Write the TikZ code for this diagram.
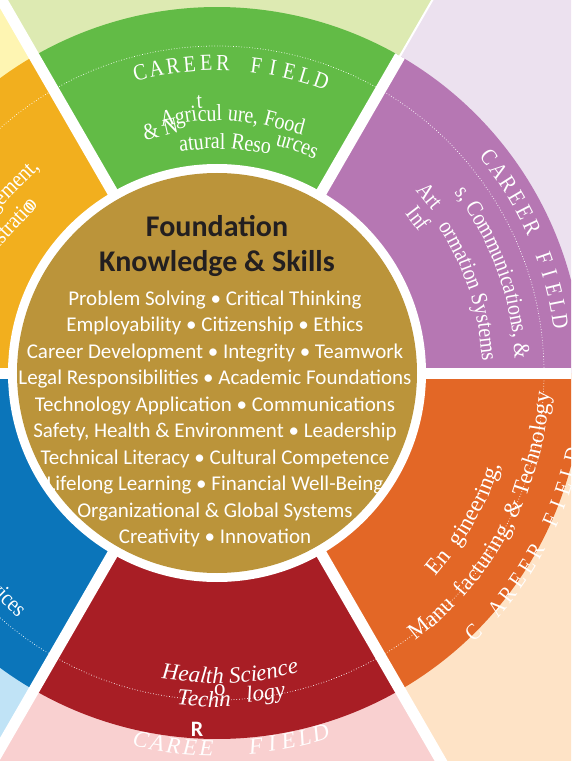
\documentclass[tikz,border=0pt]{standalone}
\usepackage{fontspec}
\setmainfont{Carlito}
\newfontfamily\ringfont[FakeStretch=0.87]{Liberation Serif}
\newfontfamily\plainring{Liberation Serif}

\definecolor{agrigreen}{HTML}{62BB46}
\definecolor{artpurple}{HTML}{B677B3}
\definecolor{engorange}{HTML}{E36726}
\definecolor{healthred}{HTML}{A81E25}
\definecolor{humanblue}{HTML}{0B75BA}
\definecolor{bizgold}{HTML}{F2AF1E}
\definecolor{coregold}{HTML}{BB943A}
\definecolor{titlegray}{HTML}{231F20}
\definecolor{palegreen}{HTML}{DDEAB2}
\definecolor{palepurple}{HTML}{ECE1EF}
\definecolor{paleorange}{HTML}{FEE3C6}
\definecolor{palepink}{HTML}{F9D0D0}
\definecolor{paleblue}{HTML}{C0E3F6}
\definecolor{paleyellow}{HTML}{FEF5B2}

\newcommand{\ringtext}{\ringfont\fontsize{23}{27}\selectfont}
\newcommand{\widetext}{\plainring\fontsize{23}{27}\selectfont}
\newcommand{\slanttext}{\plainring\itshape\fontsize{23}{27}\selectfont}

\tikzset{
  field/.style={text=white, inner sep=0pt, font=\ringtext},
  fieldit/.style={field, font=\slanttext},
  skill/.style={text=white, align=center, inner sep=0pt, font=\fontsize{21}{26.5}\selectfont},
  heading/.style={text=titlegray, align=center, inner sep=0pt, font=\bfseries\fontsize{30}{35}\selectfont},
}

% pieces of a line laid round the ring:
% name, start angle, baseline radius, sense (-1 clockwise), turn, font, pieces
\newcommand{\arcline}[7]{%
  \xdef\arcpos{#2}%
  \foreach \piece [count=\k] in {#7}{%
    \path node[inner sep=0pt, outer sep=0pt, font=#6, anchor=base west] (arcmeasure) at (0,0) {\phantom{\piece}};
    \pgfextractx{\dimen0}{\pgfpointanchor{arcmeasure}{base east}}%
    \edef\arcwd{\the\dimen0}%
    \pgfmathsetmacro\arcmid{\arcpos+(#4)*\arcwd/(#3)*28.6479}%
    \pgfmathsetmacro\arcnext{\arcpos+(#4)*\arcwd/(#3)*57.2958}%
    \node[text=white, inner sep=0pt, anchor=base, font=#6, rotate={\arcmid+(#5)}] (#1\k) at (\arcmid:#3pt) {\hbox{\piece}};
    \xdef\arcpos{\arcnext}%
  }}
% spaced capitals round the ring
\newcommand{\fieldletters}[7]{%
  \foreach \ch [count=\i] in {#7}
    \node[#6, rotate={#2+(\i-1)*(#3)+(#5)}] (#1\i) at ({#2+(\i-1)*(#3)}:#4pt) {\ch};}

\begin{document}
\begin{tikzpicture}[x=1pt,y=1pt]
\useasboundingbox (-217,-388) rectangle (354,373);
\clip (-217,-388) rectangle (354,373);

% sectors
\foreach \a/\pale/\deep in {0/palepurple/artpurple,60/palegreen/agrigreen,120/paleyellow/bizgold,
    180/paleblue/humanblue,240/palepink/healthred,300/paleorange/engorange}{
  \fill[\pale] (0,0) -- (\a:800pt) arc[start angle=\a, delta angle=60, radius=800pt] -- cycle;
  \fill[\deep] (0,0) -- (\a:366pt) arc[start angle=\a, delta angle=60, radius=366pt] -- cycle;
}
\draw[white, line width=0.7pt, dotted] (0,0) circle[radius=327pt];

% white gaps
\foreach \a in {0,120,180,240,300}
  \draw[white, line width=11pt] (0,0) -- (\a:800pt);
\draw[white, line width=11pt] (0,0) -- (60:366pt);
\draw[white, line width=2pt] (60:360pt) -- (60:800pt);
\fill[white] (0,0) circle[radius=209pt];
\node[circle, fill=coregold, minimum size=400pt, inner sep=0pt] (core) at (0,0) {};

% centre
\node[heading] (title) at (0,127) {Foundation\\Knowledge \& Skills};
\node[skill] (skills) at (-2,-46) {Problem Solving • Critical Thinking\\
  Employability • Citizenship • Ethics\\
  Career Development • Integrity • Teamwork\\
  Legal Responsibilities • Academic Foundations\\
  Technology Application • Communications\\
  Safety, Health \& Environment • Leadership\\
  Technical Literacy • Cultural Competence\\
  Lifelong Learning • Financial Well-Being\\
  Organizational \& Global Systems\\
  Creativity • Innovation};

% green
\fieldletters{agri}{104.4}{-3.1}{310}{-90}{field}{C,A,R,E,E,R,{},F,I,E,L,D}
\arcline{agri-a}{102.7}{252}{-1}{-90}{\ringtext}{Agri,{cul\ },{ure,\ },Food}
\node[field, anchor=base, rotate=3.7] (agri-t) at (93.7:265pt) {t};
\arcline{agri-b}{107.2}{243}{-1}{-90}{\ringtext}{{\&\ N}}
\arcline{agri-c}{99.5}{224}{-1}{-90}{\ringtext}{atu,{ral\ },Reso}
\arcline{agri-d}{75.7}{235}{-1}{-90}{\ringtext}{ur,ces}

% purple
\fieldletters{arts}{38.4}{-2.72}{347}{-90}{field}{C,A,R,E,E,R,{},F,I,E,L,D}
\arcline{arts-a}{42.6}{269}{-1}{-90}{\ringtext}{Art}
\arcline{arts-b}{37.3}{298}{-1}{-90}{\ringtext}{{s,\ },Com,mu,ni,ca,{tions,\ },\&}
\arcline{arts-c}{40.3}{246}{-1}{-90}{\ringtext}{Inf}
\arcline{arts-d}{33.6}{265}{-1}{-90}{\ringtext}{or,ma,{tion\ },Sys,tems}

% orange
\fieldletters{eng}{-45.4}{2.7}{365}{90}{field}{C,{},A,R,E,E,R,{},F,I,E,L,D}
\arcline{eng-a}{-42.9}{298}{1}{90}{\widetext}{{En\ \ },gi,neer,{ing,}}
\arcline{eng-b}{-53.5}{333}{1}{90}{\widetext}{Ma,{nu\ \ },fac,tur,{ing,\ },{\&\ },Tech,no,lo,gy}

% red
\fieldletters{health}{-101.7}{2.52}{375}{90}{fieldit}{C,A,R,E,E,{},{},F,I,E,L,D}
\arcline{health-a}{-100.3}{310}{1}{90}{\slanttext}{Heal,{th\ },Sci,ence}
\arcline{health-b}{-96.9}{334}{1}{90}{\slanttext}{Tec,hn}
\node[field, font=\widetext, anchor=base, rotate=0.5] (health-o) at (-89.5:322pt) {o};
\arcline{health-c}{-84.8}{331}{1}{90}{\slanttext}{lo,gy}
\node[text=white, inner sep=0pt, font=\bfseries\fontsize{22}{22}\selectfont] (stray) at (-20,-356) {R};

% gold and blue, cut by the edge
\node[field, rotate=45, anchor=base east] (mgmt) at (130.8:271pt) {Management,};
\node[field, rotate=47, anchor=base east] (admin) at (136.8:245pt) {Administratio\kern-0.3em o};
\node[field, rotate=-45, anchor=base east] (human) at (-129.1:316pt) {Human Services};
\end{tikzpicture}
\end{document}
